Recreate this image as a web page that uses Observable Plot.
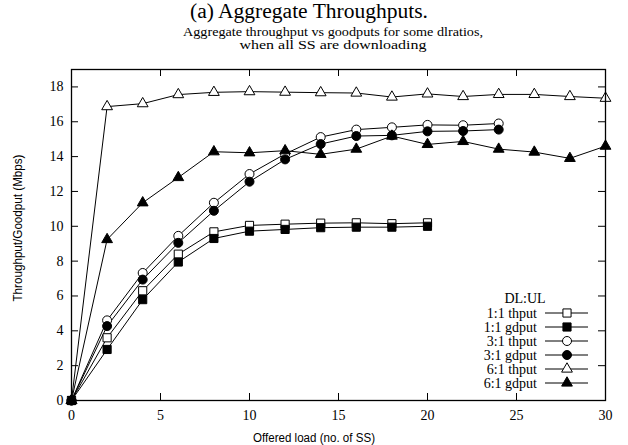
<!DOCTYPE html>
<html><head><meta charset="utf-8">
<script src="https://cdn.jsdelivr.net/npm/d3@7"></script>
<script src="https://cdn.jsdelivr.net/npm/@observablehq/plot@0.6"></script>
<style>body{margin:0;background:#fff}</style>
</head><body><div id="chart"></div>
<script>
const loads = [0,2,4,6,8,10,12,14,16,18,20,22,24,26,28,30];
const seriesNames = ["1:1 thput","1:1 gdput","3:1 thput","3:1 gdput","6:1 thput","6:1 gdput"];
const thput11 = [0,3.6,6.3,8.4,9.68,10.05,10.12,10.18,10.2,10.15,10.2];
const gdput11 = [0,2.93,5.79,7.95,9.3,9.72,9.82,9.92,9.95,9.95,10.0];
const thput31 = [0,4.6,7.32,9.45,11.35,13.0,14.15,15.12,15.55,15.68,15.82,15.8,15.9];
const gdput31 = [0,4.27,6.94,9.05,10.89,12.56,13.84,14.72,15.18,15.22,15.45,15.47,15.55];
const thput61 = [0,16.87,17.04,17.56,17.69,17.73,17.7,17.67,17.65,17.42,17.6,17.45,17.57,17.57,17.45,17.35];
const gdput61 = [0,9.24,11.35,12.8,14.28,14.22,14.34,14.13,14.43,15.18,14.7,14.87,14.43,14.26,13.9,14.6];
const xTicks = [0,5,10,15,20,25,30];
const yTicks = [0,2,4,6,8,10,12,14,16,18];
const titleText = "(a) Aggregate Throughputs.";
const subtitleLines = ["Aggregate throughput vs goodputs for some dlratios,","when all SS are downloading"];
const xLabel = "Offered load (no. of SS)";
const yLabel = "Throughput/Goodput (Mbps)";
const legendTitle = "DL:UL";

const SERIF = "'Liberation Serif', 'Times New Roman', Times, serif";
const SANS = "'Liberation Sans', Arial, Helvetica, sans-serif";

const values = [thput11,gdput11,thput31,gdput31,thput61,gdput61];
const styles = [
  {symbol:"square", fill:"white", r:4.6},
  {symbol:"square", fill:"black", r:4.6},
  {symbol:"circle", fill:"white", r:4.5},
  {symbol:"circle", fill:"black", r:4.5},
  {symbol:"triangle", fill:"white", r:4.0},
  {symbol:"triangle", fill:"black", r:4.0}
];
const rows = values.map((vals,i)=>vals.map((v,j)=>({series:seriesNames[i], load:loads[j], value:v})));

const W=628,H=445,ML=71,MR=23,MT=69,MB=45;
const marks = [];
rows.forEach((data,i)=>{
  marks.push(Plot.line(data,{x:"load",y:"value",stroke:"black",strokeWidth:1}));
});
rows.forEach((data,i)=>{
  const s=styles[i];
  marks.push(Plot.dot(data,{x:"load",y:"value",symbol:()=>s.symbol,r:s.r,fill:s.fill,stroke:"black",strokeWidth:1}));
});

const chart = Plot.plot({
  width:W,height:H,marginLeft:ML,marginRight:MR,marginTop:MT,marginBottom:MB,
  style:{fontFamily:SERIF,fontSize:"14px",background:"white",color:"black",overflow:"visible"},
  x:{domain:[0,30]},
  y:{domain:[0,19]},
  symbol:{type:"identity"},
  marks:[
    Plot.tickY(yTicks,{y:d=>d,stroke:"black",insetRight:W-ML-MR-7}),
    Plot.tickY(yTicks,{y:d=>d,stroke:"black",insetLeft:W-ML-MR-7}),
    Plot.tickX(xTicks,{x:d=>d,stroke:"black",insetTop:H-MT-MB-7}),
    Plot.tickX(xTicks,{x:d=>d,stroke:"black",insetBottom:H-MT-MB-7}),
    Plot.axisX(xTicks,{tickSize:0,tickPadding:10,label:null,fontSize:14,fontFamily:SERIF}),
    Plot.axisY(yTicks,{tickSize:0,tickPadding:8,label:null,fontSize:14,fontFamily:SERIF}),
    ...marks,
    Plot.frame({stroke:"black",strokeWidth:1.3})
  ]
});
document.getElementById("chart").appendChild(chart);

const svg = d3.select(chart);
svg.append("text").attr("x",309).attr("y",18).attr("text-anchor","middle")
  .style("font-family",SERIF).style("font-size","20px")
  .attr("textLength",238).attr("lengthAdjust","spacingAndGlyphs").text(titleText);
svg.append("text").attr("x",333).attr("y",36).attr("text-anchor","middle")
  .style("font-family",SERIF).style("font-size","11.5px")
  .attr("textLength",300).attr("lengthAdjust","spacingAndGlyphs").text(subtitleLines[0]);
svg.append("text").attr("x",333).attr("y",48.5).attr("text-anchor","middle")
  .style("font-family",SERIF).style("font-size","11.5px")
  .attr("textLength",187).attr("lengthAdjust","spacingAndGlyphs").text(subtitleLines[1]);
svg.append("text").attr("x",314).attr("y",442).attr("text-anchor","middle")
  .style("font-family",SANS).style("font-size","12px")
  .attr("textLength",122).attr("lengthAdjust","spacingAndGlyphs").text(xLabel);
svg.append("text").attr("transform","translate(22,228) rotate(-90)").attr("text-anchor","middle")
  .style("font-family",SANS).style("font-size","12px")
  .attr("textLength",147).attr("lengthAdjust","spacingAndGlyphs").text(yLabel);

// legend
const lg = svg.append("g").style("font-family",SERIF).style("font-size","14px");
lg.append("text").attr("x",525).attr("y",303).attr("text-anchor","middle").text(legendTitle);
const symMap={square:d3.symbolSquare,circle:d3.symbolCircle,triangle:d3.symbolTriangle};
seriesNames.forEach((name,i)=>{
  const y=313+14*i, s=styles[i];
  lg.append("text").attr("x",537).attr("y",y+4.5).attr("text-anchor","end").text(name);
  lg.append("line").attr("x1",545).attr("x2",588).attr("y1",y).attr("y2",y).attr("stroke","black");
  lg.append("path").attr("transform",`translate(567,${y})`)
    .attr("d",d3.symbol(symMap[s.symbol],Math.PI*s.r*s.r)())
    .attr("fill",s.fill).attr("stroke","black");
});
</script></body></html>
